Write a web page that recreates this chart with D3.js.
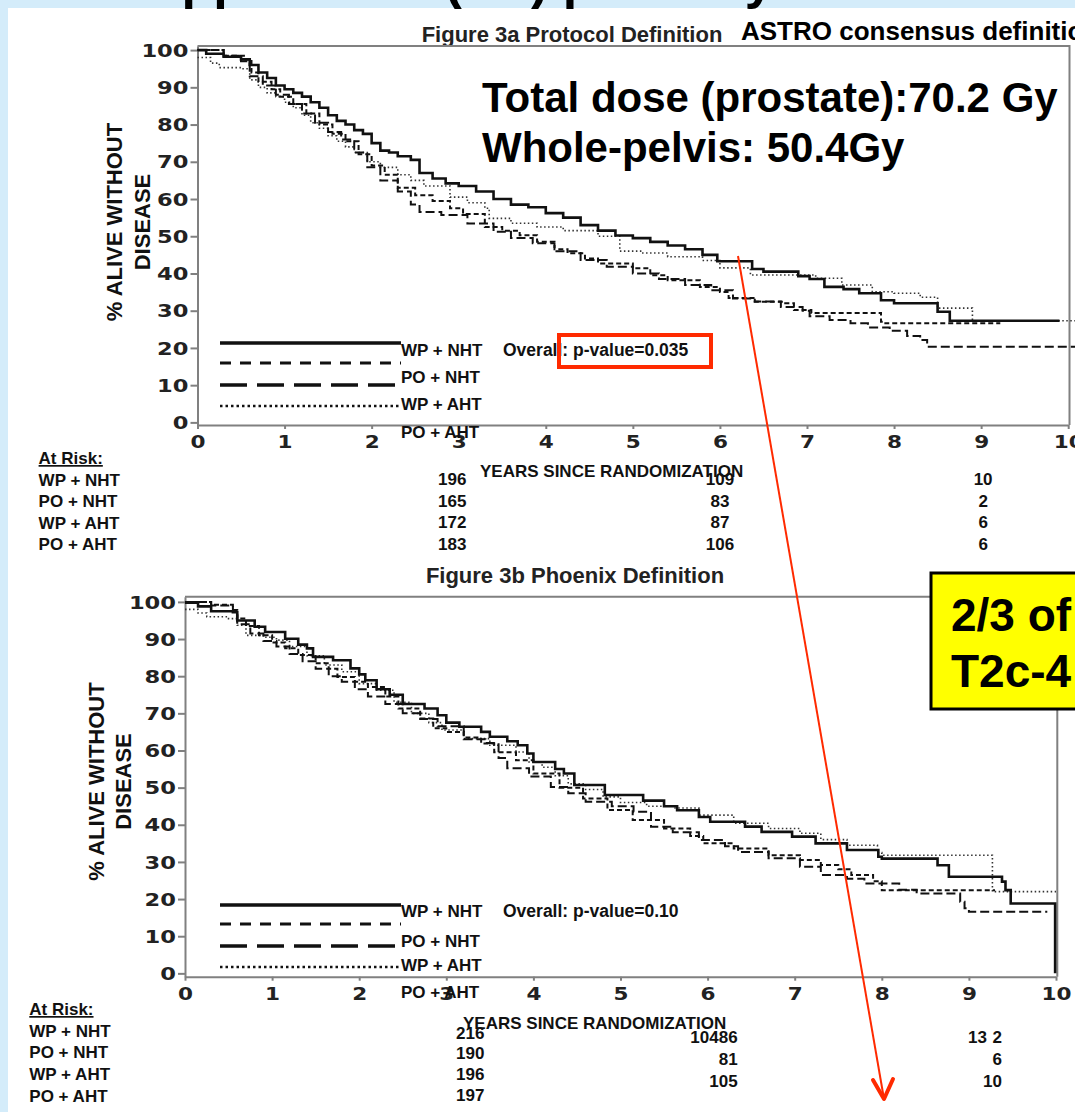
<!DOCTYPE html>
<html>
<head>
<meta charset="utf-8">
<script src="https://cdn.jsdelivr.net/npm/d3@7"></script>
<style>
  body { margin: 0; background: #d4ecfa; overflow: hidden; }
  text { font-family: "Liberation Sans", Arial, sans-serif; font-weight: bold; fill: #111; }
  .tick text { font-family: "DejaVu Sans", sans-serif; font-weight: bold; font-size: 17px; fill: #222; }
  .tick line, .domain { stroke: #808080; stroke-width: 2; }
</style>
</head>
<body>
<script>
var groups = ["WP + NHT", "PO + NHT", "WP + AHT", "PO + AHT"];
var yearTicks = [0, 1, 2, 3, 4, 5, 6, 7, 8, 9, 10];
var survTicks = [0, 10, 20, 30, 40, 50, 60, 70, 80, 90, 100];

// Figure 3a (protocol definition): [years, % alive without disease]
var a_wpNht = [[0,100],[0.1,99],[0.3,98.2],[0.5,97.5],[0.6,96],[0.7,94],[0.8,92.5],[0.9,90.5],[1.0,89.5],[1.1,88.5],[1.2,87.5],[1.3,86],[1.4,84.5],[1.5,82.5],[1.6,81],[1.7,80],[1.8,78.5],[1.9,77.5],[2.0,75],[2.1,73],[2.2,72.5],[2.3,71.5],[2.45,70.5],[2.55,67],[2.7,65.5],[2.85,64.2],[3.0,63.5],[3.2,62],[3.4,60],[3.6,58.5],[3.8,57.8],[4.0,56.2],[4.2,55],[4.4,53],[4.6,51.5],[4.8,50.2],[5.0,49.5],[5.2,48.5],[5.4,47.5],[5.6,46.5],[5.8,45],[5.97,43.3],[6.37,41.2],[6.5,40.5],[6.9,39.3],[7.03,38.5],[7.2,36.4],[7.42,35.8],[7.6,34.7],[7.85,32.8],[8.0,32],[8.5,29.7],[8.64,27.3],[9.9,27.3]];
var a_poNht = [[0,100],[0.3,98.5],[0.55,97.5],[0.62,94],[0.7,91.5],[0.85,89.5],[0.95,87.5],[1.1,85.5],[1.25,83],[1.4,80],[1.55,77.5],[1.7,75.5],[1.85,72],[2.0,69],[2.15,66.5],[2.3,63],[2.5,61],[2.7,59.5],[2.9,57.5],[3.05,56],[3.3,52.5],[3.5,51.5],[3.7,50.3],[3.9,48.5],[4.1,46.5],[4.25,45.4],[4.45,44],[4.6,42.7],[5.0,41.4],[5.2,39.5],[5.4,38.2],[5.77,36.4],[6.0,35],[6.1,33.4],[6.4,32.4],[6.75,32],[6.85,30.2],[7.05,29.4],[7.75,29.4],[7.85,27],[7.9,26.6],[9.22,26.6]];
var a_wpAht = [[0,100],[0.3,98.5],[0.5,97],[0.6,93],[0.75,90.5],[0.9,88],[1.05,85.5],[1.2,83],[1.35,80.5],[1.5,78],[1.65,76],[1.8,72.5],[1.95,68.5],[2.1,65],[2.3,62],[2.45,58.5],[2.55,56.5],[2.8,55.7],[3.1,53.4],[3.4,51.2],[3.6,49.5],[3.85,48.1],[4.1,46],[4.4,43.6],[4.7,41.8],[5.0,40],[5.3,38.5],[5.6,36.9],[5.9,35.5],[6.15,33.3],[6.4,32.5],[6.7,31],[6.95,30],[7.03,28.5],[7.26,27.5],[7.5,26.6],[7.7,25.5],[7.95,24.6],[8.15,23.2],[8.3,22.1],[8.38,20.3],[10.08,20.3]];
var a_poAht = [[0,98],[0.15,96.5],[0.25,95.3],[0.5,95],[0.6,92],[0.7,90],[0.8,88.5],[0.9,87.5],[1.0,86],[1.1,84.5],[1.2,82.5],[1.3,80.5],[1.4,79],[1.5,77],[1.6,75.5],[1.7,74],[1.8,72.5],[1.95,70],[2.1,68.5],[2.3,66.5],[2.45,65],[2.6,63.5],[2.9,60.5],[3.1,59],[3.3,57.5],[3.35,54.8],[3.6,53.5],[3.9,52.5],[4.2,51.5],[4.6,50],[4.85,46],[5.1,45.5],[5.4,44.5],[5.8,43.5],[6.0,41.5],[6.35,39.6],[6.8,39.6],[7.1,38.7],[7.4,36.9],[7.75,35.1],[8.0,34.7],[8.3,33.6],[8.5,30.7],[8.9,30.7],[8.9,27.3],[10.08,27.3]];
var a_riskYears = [3, 6, 9];
var a_risk = [[196, 109, 10], [165, 83, 2], [172, 87, 6], [183, 106, 6]];
var a_pValue = "0.035";

// Figure 3b (Phoenix definition)
var b_wpNht = [[0,99.8],[0.15,98.8],[0.3,97.5],[0.55,97.2],[0.6,95],[0.8,93.3],[0.92,91.9],[1.15,90.1],[1.3,88.5],[1.4,87.5],[1.47,85.2],[1.7,84.3],[1.9,82.1],[2.0,80.5],[2.07,78.9],[2.2,76.5],[2.35,75],[2.5,72.5],[2.75,71.3],[2.9,69.5],[3.0,67.5],[3.15,66.4],[3.4,65],[3.5,63.7],[3.7,62.5],[3.82,61.4],[3.93,59.2],[4.0,56.9],[4.25,55],[4.35,53.8],[4.47,50.7],[4.82,48],[5.26,46.5],[5.5,45],[5.65,43.9],[5.9,42.1],[6.03,40.8],[6.43,39.5],[6.62,38.1],[6.97,36.8],[7.24,35],[7.6,33.2],[7.96,31.4],[8.0,30.9],[8.64,29.1],[8.77,26],[9.38,24.7],[9.42,22.4],[9.48,18.8],[9.99,18.8],[9.99,0]];
var b_poNht = [[0,100],[0.3,99.2],[0.55,97.8],[0.6,95.5],[0.7,93.5],[0.85,91],[1.0,89.1],[1.15,87.5],[1.3,85.7],[1.5,83.5],[1.65,82],[1.75,79.8],[1.95,78.5],[2.1,77.1],[2.3,74.5],[2.45,71.3],[2.7,68.6],[2.85,66],[3.0,65],[3.2,63.5],[3.4,61.9],[3.55,59.5],[3.8,57.4],[4.0,53.8],[4.3,50],[4.57,47.1],[4.85,44],[5.14,41.3],[5.5,39],[5.8,37],[5.95,35],[6.3,33.6],[6.7,31.8],[7.06,30.5],[7.3,29.2],[7.5,28],[7.65,26.5],[7.9,24.8],[8.0,22.4],[9.3,22.4]];
var b_wpAht = [[0,100],[0.3,99],[0.55,97.5],[0.6,94],[0.75,91.5],[0.9,89.5],[1.05,88],[1.2,86],[1.35,84],[1.5,82],[1.65,80],[1.8,78.5],[1.95,76.5],[2.1,74.5],[2.3,72.5],[2.5,70],[2.7,68.5],[2.9,66.5],[3.2,63],[3.45,62],[3.6,58],[3.7,55.2],[3.95,53],[4.2,50.2],[4.4,48.5],[4.6,46.2],[4.9,45],[5.15,43.5],[5.35,39.5],[5.6,38],[5.9,35.9],[6.2,34.2],[6.35,32.7],[6.7,31],[7.06,28.7],[7.3,26.5],[7.6,25.5],[7.8,24.2],[8.2,22.5],[8.4,21.5],[8.8,21.5],[8.9,19.3],[8.95,17.5],[9.0,16.6],[9.9,16.6]];
var b_poAht = [[0,98],[0.15,97],[0.25,96],[0.5,95.5],[0.6,93.7],[0.7,91],[0.9,90.5],[1.05,89.7],[1.2,88],[1.4,85.5],[1.6,83],[1.8,81.2],[2.0,78],[2.2,76.2],[2.4,73],[2.6,70],[2.8,67.5],[2.95,65.5],[3.2,63.2],[3.5,61.4],[3.8,59.6],[3.95,56.9],[4.1,55.5],[4.25,53.2],[4.4,51],[4.6,49.5],[4.8,47.5],[5.0,46],[5.3,45],[5.6,44.5],[5.9,42.6],[6.3,40.4],[6.7,39],[7.06,37.7],[7.3,36],[7.6,34.5],[7.95,32.5],[8.0,31.8],[9.27,31.8],[9.27,22],[10,22]];
var b_riskYears = [3, 6, 9];
var b_risk = [[216, 104, 13], [190, 86, 2], [196, 81, 6], [197, 105, 10]];
var b_pValue = "0.10";

var W = 1075, H = 1112;

// line looks: plot stroke / legend stroke
var looks = {
  solid: { w: 2.6, dash: null, lw: 3.5, ldash: null },
  short: { w: 2, dash: "5,3", lw: 3, ldash: "11,9" },
  long:  { w: 2, dash: "9,4", lw: 3.5, ldash: "27,10" },
  dot:   { w: 1.6, dash: "1.5,2.5", lw: 2.5, ldash: "2.5,3" }
};
var lookOrder = ["solid", "short", "long", "dot"];

var svg = d3.select("body").append("svg")
    .attr("width", W)
    .attr("height", H);

svg.append("rect").attr("width", W).attr("height", H).attr("fill", "#d4ecfa");
svg.append("rect").attr("x", 8).attr("y", 8).attr("width", W - 8).attr("height", H - 8).attr("fill", "#fff");

// slide title, cut off above the picture
svg.append("text")
    .attr("x", 115).attr("y", -2)
    .style("font-size", "52px")
    .style("fill", "#000")
    .text("Suppression (HT) plus any RT");

function panel(cfg) {
  var x = d3.scaleLinear().domain([0, 10]).range([cfg.left, cfg.right]);
  var y = d3.scaleLinear().domain(cfg.yDomain).range([cfg.bottom, cfg.top]);
  var g = svg.append("g");

  g.append("text")
      .attr("x", cfg.titleX).attr("y", cfg.titleY)
      .attr("text-anchor", "middle")
      .style("font-size", "22px")
      .style("fill", "#222")
      .text(cfg.title);

  // frame top + right
  g.append("path")
      .attr("d", "M" + cfg.left + "," + cfg.top + "H" + (cfg.right + 1.3) + "V" + cfg.bottom)
      .attr("fill", "none")
      .attr("stroke", "#808080")
      .attr("stroke-width", 2);

  var xAxis = g.append("g")
      .attr("transform", "translate(0," + cfg.bottom + ")")
      .call(d3.axisBottom(x).tickValues(yearTicks).tickSize(4).tickSizeOuter(0));
  xAxis.selectAll(".tick text")
      .attr("y", cfg.xLabelDy).attr("dy", 0)
      .attr("textLength", function(d) { return String(d).length * 15; })
      .attr("lengthAdjust", "spacingAndGlyphs");

  var yAxis = g.append("g")
      .attr("transform", "translate(" + cfg.left + ",0)")
      .call(d3.axisLeft(y).tickValues(survTicks).tickSize(7).tickSizeOuter(0).tickPadding(2));
  yAxis.selectAll(".tick text")
      .attr("dy", "0.36em")
      .attr("textLength", function(d) { return String(d).length * 15.7; })
      .attr("lengthAdjust", "spacingAndGlyphs");

  // y axis title, two lines
  g.append("text")
      .attr("transform", "translate(" + cfg.yTitleX[0] + "," + cfg.yTitleY + ") rotate(-90)")
      .attr("text-anchor", "middle")
      .style("font-size", "22px")
      .text("% ALIVE WITHOUT");
  g.append("text")
      .attr("transform", "translate(" + cfg.yTitleX[1] + "," + cfg.yTitleY + ") rotate(-90)")
      .attr("text-anchor", "middle")
      .style("font-size", "22px")
      .text("DISEASE");

  g.append("text")
      .attr("x", cfg.xTitleX).attr("y", cfg.xTitleY)
      .style("font-size", "17px")
      .text("YEARS SINCE RANDOMIZATION");

  // survival curves
  var line = d3.line()
      .x(function(d) { return x(d[0]); })
      .y(function(d) { return y(d[1]); })
      .curve(d3.curveStepAfter);

  var curves = g.append("g").attr("class", "curves");
  [3, 2, 1, 0].forEach(function(i) {
    var lk = looks[lookOrder[i]];
    curves.append("path")
        .datum(cfg.series[i])
        .attr("d", line)
        .attr("fill", "none")
        .attr("stroke", i == 3 ? "#333" : "#111")
        .attr("stroke-width", lk.w)
        .attr("stroke-dasharray", lk.dash);
  });

  // legend
  var leg = g.append("g").attr("class", "legend");
  lookOrder.forEach(function(k, i) {
    var lk = looks[k];
    leg.append("line")
        .attr("x1", cfg.legX[0]).attr("x2", cfg.legX[1])
        .attr("y1", cfg.legLineY[i]).attr("y2", cfg.legLineY[i])
        .attr("stroke", "#111")
        .attr("stroke-width", lk.lw)
        .attr("stroke-dasharray", lk.ldash);
    leg.append("text")
        .attr("x", cfg.legX[1]).attr("y", cfg.legTextY[i])
        .style("font-size", "17px")
        .text(groups[i]);
  });
  g.append("text")
      .attr("x", cfg.pX).attr("y", cfg.legTextY[0])
      .style("font-size", "17.5px")
      .text("Overall: p-value=" + cfg.pValue);

  // numbers at risk
  var rt = g.append("g").attr("class", "atrisk");
  rt.append("text")
      .attr("x", cfg.risk.labelX).attr("y", cfg.risk.titleY)
      .style("font-size", "17px")
      .style("text-decoration", "underline")
      .text("At Risk:");
  groups.forEach(function(name, i) {
    rt.append("text")
        .attr("x", cfg.risk.labelX).attr("y", cfg.risk.rowY[i])
        .style("font-size", "17px")
        .text(name);
  });
  cfg.riskYears.forEach(function(yr, c) {
    var col = cfg.risk.cols[c];
    cfg.riskData.forEach(function(row, i) {
      rt.append("text")
          .attr("x", x(yr) + col.dx + col.rowDx[i])
          .attr("y", col.rowY[i])
          .attr("text-anchor", col.anchor)
          .style("font-size", "17px")
          .text(row[c]);
    });
  });

  return { x: x, y: y, g: g };
}

var pa = panel({
  title: "Figure 3a Protocol Definition", titleX: 572, titleY: 42,
  left: 197.5, right: 1068.2, top: 46, bottom: 425, yDomain: [-0.7, 101.1],
  xLabelDy: 23,
  yTitleX: [122, 150], yTitleY: 222,
  xTitleX: 480, xTitleY: 477,
  series: [a_wpNht, a_poNht, a_wpAht, a_poAht],
  legX: [220, 401], legLineY: [343, 363, 385, 406], legTextY: [355.5, 382.5, 409.5, 437.5],
  pX: 503, pValue: a_pValue,
  riskYears: a_riskYears, riskData: a_risk,
  risk: {
    labelX: 38.6, titleY: 464, rowY: [486, 507, 529, 550],
    cols: [
      { dx: -6.5, anchor: "middle", rowY: [485, 507, 528, 550], rowDx: [0, 0, 0, 0] },
      { dx: 0, anchor: "middle", rowY: [485, 507, 528, 550], rowDx: [0, 0, 0, 0] },
      { dx: 2, anchor: "middle", rowY: [485, 507, 528, 550], rowDx: [0, 0, 0, 0] }
    ]
  }
});

var pb = panel({
  title: "Figure 3b Phoenix Definition", titleX: 575, titleY: 583,
  left: 185, right: 1056, top: 596.7, bottom: 976.7, yDomain: [-0.9, 101.4],
  xLabelDy: 23,
  yTitleX: [103.5, 131], yTitleY: 781.5,
  xTitleX: 463, xTitleY: 1029,
  series: [b_wpNht, b_poNht, b_wpAht, b_poAht],
  legX: [220, 401], legLineY: [905, 924, 946, 967], legTextY: [917, 947, 971, 998],
  pX: 503, pValue: b_pValue,
  riskYears: b_riskYears, riskData: b_risk,
  risk: {
    labelX: 29.3, titleY: 1015, rowY: [1037, 1058, 1080, 1102],
    cols: [
      { dx: 24, anchor: "middle", rowY: [1039, 1059, 1080, 1101], rowDx: [0, 0, 0, 0] },
      { dx: 30, anchor: "end", rowY: [1043, 1043, 1065, 1087], rowDx: [-19, 0, 0, 0] },
      { dx: 33, anchor: "end", rowY: [1043, 1043, 1065, 1087], rowDx: [-15, 0, 0, 0] }
    ]
  }
});

// annotations on the slide
svg.append("text")
    .attr("x", 741).attr("y", 40)
    .style("font-size", "26px")
    .style("fill", "#000")
    .text("ASTRO consensus definition");

svg.append("text")
    .attr("x", 482).attr("y", 112)
    .style("font-size", "42px")
    .style("fill", "#000")
    .text("Total dose (prostate):70.2 Gy");
svg.append("text")
    .attr("x", 482).attr("y", 162)
    .style("font-size", "42px")
    .style("fill", "#000")
    .text("Whole-pelvis: 50.4Gy");

// red box around the p-value of figure 3a
svg.append("rect")
    .attr("x", 559).attr("y", 335)
    .attr("width", 152).attr("height", 32)
    .attr("fill", "none")
    .attr("stroke", "#ff2a00")
    .attr("stroke-width", 4);

// red arrow
svg.append("line")
    .attr("x1", 738).attr("y1", 256)
    .attr("x2", 884).attr("y2", 1099)
    .attr("stroke", "#ff2a00")
    .attr("stroke-width", 2);
svg.append("path")
    .attr("d", "M873,1080L884,1099L893,1079")
    .attr("fill", "none")
    .attr("stroke", "#ff2a00")
    .attr("stroke-width", 4)
    .attr("stroke-linejoin", "round")
    .attr("stroke-linecap", "round");

// yellow call-out box
svg.append("rect")
    .attr("x", 931).attr("y", 573)
    .attr("width", 160).attr("height", 136)
    .attr("fill", "#ffff00")
    .attr("stroke", "#000")
    .attr("stroke-width", 3);
svg.append("text")
    .attr("x", 951).attr("y", 631)
    .style("font-size", "46px")
    .style("fill", "#000")
    .text("2/3 of");
svg.append("text")
    .attr("x", 951).attr("y", 687)
    .style("font-size", "46px")
    .style("fill", "#000")
    .text("T2c-4");
</script>
</body>
</html>
